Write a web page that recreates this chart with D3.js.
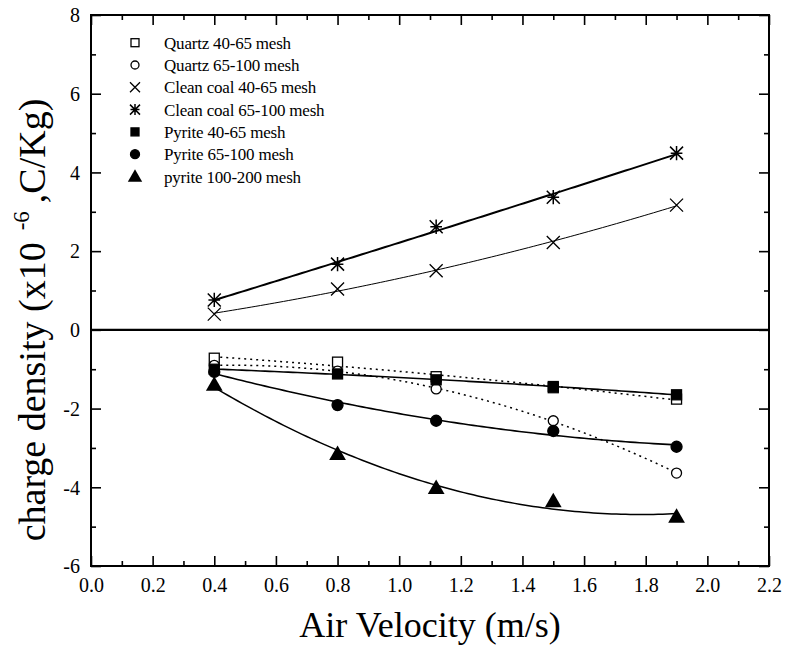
<!DOCTYPE html>
<html><head><meta charset="utf-8">
<script src="https://cdn.jsdelivr.net/npm/d3@7"></script>
<style>
body{margin:0;background:#fff}
svg text{font-family:"Liberation Serif","Times New Roman",serif;fill:#000}
</style>
</head><body>
<svg id="c" width="786" height="651"></svg>
<script>
// ---- data ----
const velocities = [0.4, 0.8, 1.12, 1.5, 1.9];
const quartz40_65 = [-0.72, -0.82, -1.19, -1.47, -1.76];
const quartz65_100 = [-0.90, -1.05, -1.50, -2.31, -3.64];
const cleanCoal40_65 = [0.40, 1.04, 1.50, 2.22, 3.17];
const cleanCoal65_100 = [0.76, 1.67, 2.62, 3.37, 4.49];
const pyrite40_65 = [-1.00, -1.12, -1.27, -1.44, -1.65];
const pyrite65_100 = [-1.07, -1.91, -2.31, -2.57, -2.97];
const pyrite100_200 = [-1.40, -3.16, -4.02, -4.36, -4.75];
const seriesNames = ["Quartz 40-65 mesh","Quartz 65-100 mesh","Clean coal 40-65 mesh","Clean coal 65-100 mesh","Pyrite 40-65 mesh","Pyrite 65-100 mesh","pyrite 100-200 mesh"];
const xTicks = [0.0,0.2,0.4,0.6,0.8,1.0,1.2,1.4,1.6,1.8,2.0,2.2];
const yTicks = [-6,-4,-2,0,2,4,6,8];

const seriesValues = [quartz40_65, quartz65_100, cleanCoal40_65, cleanCoal65_100, pyrite40_65, pyrite65_100, pyrite100_200];
const markers = ["osquare","ocircle","x","star","square","circle","triangle"];
const lineStyle = [
  {w:1.5, dash:"2,4"}, {w:1.5, dash:"2,4"}, {w:1, dash:null}, {w:2, dash:null},
  {w:1.6, dash:null}, {w:1.6, dash:null}, {w:1.5, dash:null}
];

const svg = d3.select("#c");
const L=91, R=769, T=15, B=566;
const x = d3.scaleLinear().domain([0,2.2]).range([L,R]);
const y = d3.scaleLinear().domain([-6,8]).range([B,T]);

// quadratic least-squares fit
function quadFit(xs, ys){
  const n=xs.length; let S=[0,0,0,0,0], Sy=[0,0,0];
  for(let i=0;i<n;i++){ let p=1; for(let k=0;k<5;k++){S[k]+=p; if(k<3) Sy[k]+=ys[i]*p; p*=xs[i];} }
  const M=[[S[0],S[1],S[2],Sy[0]],[S[1],S[2],S[3],Sy[1]],[S[2],S[3],S[4],Sy[2]]];
  for(let c=0;c<3;c++){ for(let r=c+1;r<3;r++){ const f=M[r][c]/M[c][c]; for(let k=c;k<4;k++) M[r][k]-=f*M[c][k]; } }
  const a=[0,0,0];
  for(let r=2;r>=0;r--){ let s=M[r][3]; for(let k=r+1;k<3;k++) s-=M[r][k]*a[k]; a[r]=s/M[r][r]; }
  return v=>a[0]+a[1]*v+a[2]*v*v;
}

const fmtY = d=>String(d).replace("\u2212","-");
// frame & ticks
const gx = svg.append("g").attr("transform",`translate(0,${B})`)
  .call(d3.axisBottom(x).tickValues(xTicks).tickFormat(d3.format(".1f")).tickSizeInner(-10).tickSizeOuter(0).tickPadding(12));
const gxm = svg.append("g").attr("transform",`translate(0,${B})`)
  .call(d3.axisBottom(x).tickValues(d3.range(0.1,2.2,0.2)).tickFormat("").tickSizeInner(-5).tickSizeOuter(0));
const gxt = svg.append("g").attr("transform",`translate(0,${T})`)
  .call(d3.axisTop(x).tickValues(xTicks).tickFormat("").tickSizeInner(-10).tickSizeOuter(0));
const gxtm = svg.append("g").attr("transform",`translate(0,${T})`)
  .call(d3.axisTop(x).tickValues(d3.range(0.1,2.2,0.2)).tickFormat("").tickSizeInner(-5).tickSizeOuter(0));
const gy = svg.append("g").attr("transform",`translate(${L},0)`)
  .call(d3.axisLeft(y).tickValues(yTicks).tickFormat(fmtY).tickSizeInner(-10).tickSizeOuter(0).tickPadding(11));
const gym = svg.append("g").attr("transform",`translate(${L},0)`)
  .call(d3.axisLeft(y).tickValues(d3.range(-5,8,2)).tickFormat("").tickSizeInner(-5).tickSizeOuter(0));
const gyr = svg.append("g").attr("transform",`translate(${R},0)`)
  .call(d3.axisRight(y).tickValues(yTicks).tickFormat("").tickSizeInner(-10).tickSizeOuter(0));
const gyrm = svg.append("g").attr("transform",`translate(${R},0)`)
  .call(d3.axisRight(y).tickValues(d3.range(-5,8,2)).tickFormat("").tickSizeInner(-5).tickSizeOuter(0));
[gx,gxm,gxt,gxtm,gy,gym,gyr,gyrm].forEach(g=>{
  g.attr("font-family",'"Liberation Serif",serif').attr("font-size",20);
  g.select(".domain").remove();
  g.selectAll(".tick line").attr("stroke","#000").attr("stroke-width",1.6);
  g.selectAll("text").attr("fill","#000");
});
gx.selectAll(".tick text").attr("dy","0.71em");
gy.selectAll(".tick text").attr("dy","0.34em");

svg.append("rect").attr("x",L).attr("y",T).attr("width",R-L).attr("height",B-T)
  .attr("fill","none").attr("stroke","#000").attr("stroke-width",2);
svg.append("line").attr("x1",L).attr("x2",R).attr("y1",y(0)).attr("y2",y(0))
  .attr("stroke","#000").attr("stroke-width",2.2);

// fit lines
const samples = d3.range(0,101).map(i=>velocities[0]+(velocities[velocities.length-1]-velocities[0])*i/100);
seriesValues.forEach((vals,i)=>{
  const f = quadFit(velocities, vals);
  const line = d3.line().x(d=>x(d)).y(d=>y(f(d)));
  svg.append("path").attr("d",line(samples)).attr("fill","none").attr("stroke","#000")
    .attr("stroke-width",lineStyle[i].w).attr("stroke-dasharray",lineStyle[i].dash);
});

// markers
function drawMarker(g, type, cx, cy, s){
  const h=s/2;
  if(type==="osquare"||type==="square"){
    g.append("rect").attr("x",cx-h).attr("y",cy-h).attr("width",s).attr("height",s)
      .attr("fill",type==="square"?"#000":"#fff").attr("stroke","#000").attr("stroke-width",1.3);
  } else if(type==="ocircle"||type==="circle"){
    g.append("circle").attr("cx",cx).attr("cy",cy).attr("r",h)
      .attr("fill",type==="circle"?"#000":"#fff").attr("stroke","#000").attr("stroke-width",1.3);
  } else if(type==="triangle"){
    const sym=d3.symbol().type(d3.symbolTriangle).size(s*s*0.62);
    g.append("path").attr("d",sym()).attr("transform",`translate(${cx},${cy+1})`).attr("fill","#000");
  } else if(type==="x"){
    g.append("path").attr("d",`M${cx-h},${cy-h}L${cx+h},${cy+h}M${cx-h},${cy+h}L${cx+h},${cy-h}`)
      .attr("stroke","#000").attr("stroke-width",1.3).attr("fill","none");
  } else if(type==="star"){
    g.append("path").attr("d",`M${cx-h},${cy-h}L${cx+h},${cy+h}M${cx-h},${cy+h}L${cx+h},${cy-h}M${cx},${cy-h*1.1}L${cx},${cy+h*1.1}M${cx-h*0.9},${cy}L${cx+h*0.9},${cy}`)
      .attr("stroke","#000").attr("stroke-width",1.5).attr("fill","none");
  }
}
const plotSize = {osquare:10, ocircle:10, x:13, star:13, square:10, circle:11, triangle:14};
const mg = svg.append("g");
seriesValues.forEach((vals,i)=>{
  vals.forEach((v,j)=> drawMarker(mg, markers[i], x(velocities[j]), y(v), plotSize[markers[i]]));
});

// legend
const legSize = {osquare:8, ocircle:8, x:10, star:10, square:8, circle:9, triangle:12};
const lg = svg.append("g");
seriesNames.forEach((n,i)=>{
  const cy = 42.7 + i*22.3;
  drawMarker(lg, markers[i], 135, cy, legSize[markers[i]]);
  lg.append("text").attr("x",164).attr("y",cy+6).style("font-size","17px").style("letter-spacing","-0.2px").text(n);
});

// axis titles
svg.append("text").attr("x",(L+R)/2).attr("y",637).attr("text-anchor","middle")
  .style("font-size","36px").text("Air Velocity (m/s)");
const yt = svg.append("text").attr("transform","translate(45,320) rotate(-90)").attr("text-anchor","middle")
  .style("font-size","38px");
yt.append("tspan").text("charge density (x10");
yt.append("tspan").attr("dx",12).attr("dy",-16).style("font-size","23px").text("-6");
yt.append("tspan").attr("dx",8).attr("dy",16).text(",C/Kg)");
</script>
</body></html>
